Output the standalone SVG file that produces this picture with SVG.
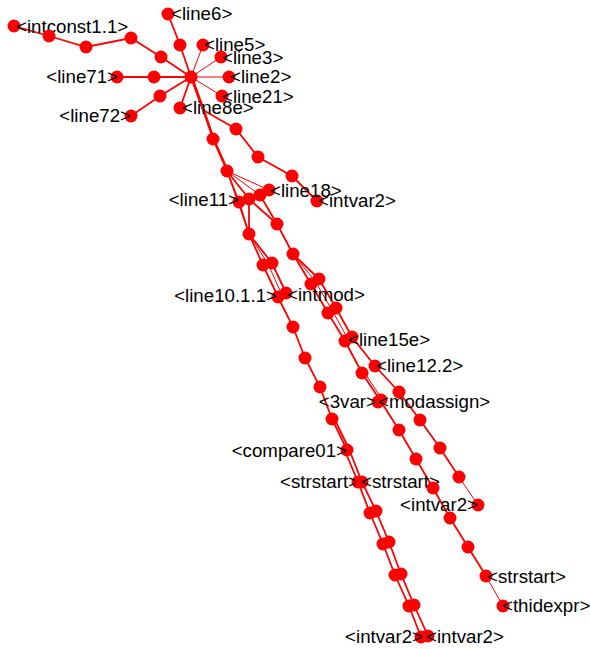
<svg xmlns="http://www.w3.org/2000/svg" width="590" height="649" viewBox="0 0 590 649">
  <style>
    .e { stroke: #ff0000; stroke-width: 1.8; fill: none; stroke-linecap: round; }
    .t { stroke: #ff0000; stroke-width: 1; fill: none; }
    .n circle { fill: #ff0000; }
    text { font-family: "Liberation Sans", Arial, sans-serif; font-size: 18.7px; fill: #000; }
    .l { text-anchor: end; }
  </style>
  <rect width="590" height="649" fill="#ffffff"/>

  <!-- connectors -->
  <g id="edges">
    <polyline class="e" points="14,26 49,36 86,47 131,38 161,57 191,77"/>
    <polyline class="e" points="168,14 180,45 191,77"/>
    <line class="t" x1="191" y1="77" x2="203" y2="45"/>
    <line class="t" x1="191" y1="77" x2="221" y2="57"/>
    <line class="t" x1="191" y1="77" x2="229" y2="77"/>
    <line class="t" x1="191" y1="77" x2="222" y2="96"/>
    <polyline class="e" points="117,77 154,77 191,77"/>
    <polyline class="e" points="131,116 160,96 191,77"/>
    <line class="e" x1="191" y1="77" x2="180" y2="108"/>
    <!-- trunk down from the hub -->
    <polyline class="e" points="191,77 203,110 213,139 227,171"/>
    <polyline class="e" points="192,77 204,110 214,139 228,171"/>
    <polyline class="e" points="191,77 203,110 236,129 258,157 292,176 317,201"/>
    <!-- fan below line11 -->
    <line class="e" x1="227" y1="171" x2="239" y2="202"/>
    <line class="e" x1="227" y1="171" x2="249" y2="199"/>
    <line class="t" x1="227" y1="171" x2="260" y2="195"/>
    <line class="t" x1="227" y1="171" x2="269" y2="190"/>
    <line class="t" x1="227" y1="171" x2="249" y2="234"/>
    <line class="e" x1="239" y1="202" x2="249" y2="234"/>
    <line class="e" x1="249" y1="199" x2="249" y2="234"/>
    <line class="e" x1="260" y1="195" x2="277" y2="224"/>
    <line class="e" x1="249" y1="199" x2="277" y2="224"/>
    <!-- left strand -->
    <line class="e" x1="249" y1="234" x2="263" y2="265"/>
    <line class="t" x1="249" y1="234" x2="268" y2="264"/>
    <line class="e" x1="249" y1="234" x2="272" y2="263"/>
    <line class="e" x1="263" y1="265" x2="278" y2="297"/>
    <line class="t" x1="268" y1="264" x2="282" y2="295"/>
    <line class="e" x1="272" y1="263" x2="286" y2="293"/>
    <polyline class="e" points="278,297 293,327 305,358 320,387 332,419 347,450"/>
    <line class="e" x1="334" y1="418" x2="349" y2="449"/>
    <polyline class="e" points="345,451 358,482 370,513 383,544 395,575 409,606 421,637"/>
    <polyline class="e" points="349,449 362,482 376,511 389,542 401,574 414,605 428,636"/>
    <!-- middle strand -->
    <line class="e" x1="277" y1="224" x2="293" y2="254"/>
    <line class="e" x1="293" y1="254" x2="311" y2="284"/>
    <line class="t" x1="293" y1="254" x2="315" y2="281"/>
    <line class="e" x1="293" y1="254" x2="319" y2="279"/>
    <line class="e" x1="311" y1="284" x2="328" y2="313"/>
    <line class="t" x1="315" y1="281" x2="332" y2="310"/>
    <line class="e" x1="319" y1="279" x2="336" y2="308"/>
    <line class="e" x1="328" y1="313" x2="345" y2="341"/>
    <line class="t" x1="332" y1="310" x2="348" y2="339"/>
    <line class="e" x1="336" y1="308" x2="352" y2="337"/>
    <line class="e" x1="345" y1="341" x2="362" y2="373"/>
    <line class="e" x1="352" y1="337" x2="375" y2="366"/>
    <polyline class="e" points="362,373 380,400 399,430 416,459 433,488 450,518 468,547 486,576"/>
    <line class="t" x1="486" y1="576" x2="503" y2="606"/>
    <line class="t" x1="364" y1="372" x2="382" y2="399"/>
    <!-- right strand -->
    <polyline class="e" points="375,366 399,392 420,420 440,448 459,477"/>
    <line class="t" x1="459" y1="477" x2="478" y2="505"/>
  </g>

  <!-- upper star -->
  <g id="intconst1.1" class="n"><circle cx="14" cy="26" r="6.5"/><text x="16" y="33">&lt;intconst1.1&gt;</text></g>
  <g id="p1" class="n"><circle cx="49" cy="36" r="6.5"/></g>
  <g id="p2" class="n"><circle cx="86" cy="47" r="6.5"/></g>
  <g id="p3" class="n"><circle cx="131" cy="38" r="6.5"/></g>
  <g id="p4" class="n"><circle cx="161" cy="57" r="6.5"/></g>
  <g id="hub" class="n"><circle cx="191" cy="77" r="6.5"/></g>
  <g id="line6" class="n"><circle cx="168" cy="14" r="6.5"/><text x="171" y="20">&lt;line6&gt;</text></g>
  <g id="p5" class="n"><circle cx="180" cy="45" r="6.5"/></g>
  <g id="line5" class="n"><circle cx="203" cy="45" r="6.5"/><text x="204" y="51">&lt;line5&gt;</text></g>
  <g id="line3" class="n"><circle cx="221" cy="57" r="6.5"/><text x="222" y="64">&lt;line3&gt;</text></g>
  <g id="line2" class="n"><circle cx="229" cy="77" r="6.5"/><text x="230" y="83">&lt;line2&gt;</text></g>
  <g id="line21" class="n"><circle cx="222" cy="96" r="6.5"/><text x="222" y="103">&lt;line21&gt;</text></g>
  <g id="line8e" class="n"><circle cx="180" cy="108" r="6.5"/><text x="182" y="114">&lt;line8e&gt;</text></g>
  <g id="line71" class="n"><circle cx="117" cy="77" r="6.5"/><text class="l" x="118" y="83">&lt;line71&gt;</text></g>
  <g id="p6" class="n"><circle cx="154" cy="77" r="6.5"/></g>
  <g id="p7" class="n"><circle cx="160" cy="96" r="6.5"/></g>
  <g id="line72" class="n"><circle cx="131" cy="116" r="6.5"/><text class="l" x="131" y="122">&lt;line72&gt;</text></g>

  <!-- trunk -->
  <g id="p8" class="n"><circle cx="213" cy="139" r="6.5"/></g>
  <g id="p9" class="n"><circle cx="227" cy="171" r="6.5"/></g>
  <g id="p10" class="n"><circle cx="236" cy="129" r="6.5"/></g>
  <g id="p11" class="n"><circle cx="258" cy="157" r="6.5"/></g>
  <g id="p12" class="n"><circle cx="292" cy="176" r="6.5"/></g>
  <g id="intvar2-a" class="n"><circle cx="317" cy="201" r="6.5"/><text x="318" y="207">&lt;intvar2&gt;</text></g>
  <g id="line11" class="n"><circle cx="239" cy="202" r="6.5"/><text class="l" x="239" y="206">&lt;line11&gt;</text></g>
  <g id="p13" class="n"><circle cx="249" cy="199" r="6.5"/></g>
  <g id="p14" class="n"><circle cx="260" cy="195" r="6.5"/></g>
  <g id="line18" class="n"><circle cx="269" cy="190" r="6.5"/><text x="270" y="197">&lt;line18&gt;</text></g>

  <!-- left strand nodes -->
  <g id="p15" class="n"><circle cx="249" cy="234" r="6.5"/></g>
  <g id="p16" class="n"><circle cx="263" cy="265" r="6.5"/><circle cx="272" cy="263" r="6.5"/></g>
  <g id="line10.1.1" class="n"><circle cx="278" cy="297" r="6.5"/><text class="l" x="277" y="302">&lt;line10.1.1&gt;</text></g>
  <g id="intmod" class="n"><circle cx="286" cy="293" r="6.5"/><text x="287" y="301">&lt;intmod&gt;</text></g>
  <g id="p17" class="n"><circle cx="293" cy="327" r="6.5"/></g>
  <g id="p18" class="n"><circle cx="305" cy="358" r="6.5"/></g>
  <g id="p19" class="n"><circle cx="320" cy="387" r="6.5"/></g>
  <g id="p20" class="n"><circle cx="332" cy="419" r="6.5"/></g>
  <g id="compare01" class="n"><circle cx="347" cy="450" r="6.5"/><text class="l" x="347" y="457">&lt;compare01&gt;</text></g>
  <g id="strstart-a" class="n"><circle cx="358" cy="482" r="6.5"/><text class="l" x="359" y="488">&lt;strstart&gt;</text></g>
  <g id="strstart-b" class="n"><circle cx="362" cy="482" r="6.5"/><text x="361" y="488">&lt;strstart&gt;</text></g>
  <g id="p21" class="n"><circle cx="370" cy="513" r="6.5"/><circle cx="376" cy="511" r="6.5"/></g>
  <g id="p22" class="n"><circle cx="383" cy="544" r="6.5"/><circle cx="389" cy="542" r="6.5"/></g>
  <g id="p23" class="n"><circle cx="395" cy="575" r="6.5"/><circle cx="401" cy="574" r="6.5"/></g>
  <g id="p24" class="n"><circle cx="409" cy="606" r="6.5"/><circle cx="414" cy="605" r="6.5"/></g>
  <g id="intvar2-c" class="n"><circle cx="421" cy="637" r="6.5"/><text class="l" x="423" y="643">&lt;intvar2&gt;</text></g>
  <g id="intvar2-d" class="n"><circle cx="428" cy="636" r="6.5"/><text x="426" y="643">&lt;intvar2&gt;</text></g>

  <!-- middle strand nodes -->
  <g id="p25" class="n"><circle cx="277" cy="224" r="6.5"/></g>
  <g id="p26" class="n"><circle cx="293" cy="254" r="6.5"/></g>
  <g id="p27" class="n"><circle cx="311" cy="284" r="6.5"/><circle cx="319" cy="279" r="6.5"/></g>
  <g id="p28" class="n"><circle cx="328" cy="313" r="6.5"/><circle cx="336" cy="308" r="6.5"/></g>
  <g id="line15e" class="n"><circle cx="345" cy="341" r="6.5"/><circle cx="352" cy="337" r="6.5"/><text x="348" y="346">&lt;line15e&gt;</text></g>
  <g id="line12.2" class="n"><circle cx="375" cy="366" r="6.5"/><text x="376" y="372">&lt;line12.2&gt;</text></g>
  <g id="p29" class="n"><circle cx="362" cy="373" r="6.5"/></g>
  <g id="3var" class="n"><circle cx="378" cy="402" r="6.5"/><text class="l" x="377" y="408">&lt;3var&gt;</text></g>
  <g id="modassign" class="n"><circle cx="381" cy="400" r="6.5"/><text x="378" y="408">&lt;modassign&gt;</text></g>
  <g id="p30" class="n"><circle cx="399" cy="430" r="6.5"/></g>
  <g id="p31" class="n"><circle cx="416" cy="459" r="6.5"/></g>
  <g id="p32" class="n"><circle cx="433" cy="488" r="6.5"/></g>
  <g id="p33" class="n"><circle cx="450" cy="518" r="6.5"/></g>
  <g id="p34" class="n"><circle cx="468" cy="547" r="6.5"/></g>
  <g id="strstart-c" class="n"><circle cx="486" cy="576" r="6.5"/><text x="487" y="583">&lt;strstart&gt;</text></g>
  <g id="thidexpr" class="n"><circle cx="503" cy="606" r="6.5"/><text x="502" y="612">&lt;thidexpr&gt;</text></g>

  <!-- right strand nodes -->
  <g id="p35" class="n"><circle cx="399" cy="392" r="6.5"/></g>
  <g id="p36" class="n"><circle cx="420" cy="420" r="6.5"/></g>
  <g id="p37" class="n"><circle cx="440" cy="448" r="6.5"/></g>
  <g id="p38" class="n"><circle cx="459" cy="477" r="6.5"/></g>
  <g id="intvar2-b" class="n"><circle cx="478" cy="505" r="6.5"/><text class="l" x="478" y="511">&lt;intvar2&gt;</text></g>
</svg>
